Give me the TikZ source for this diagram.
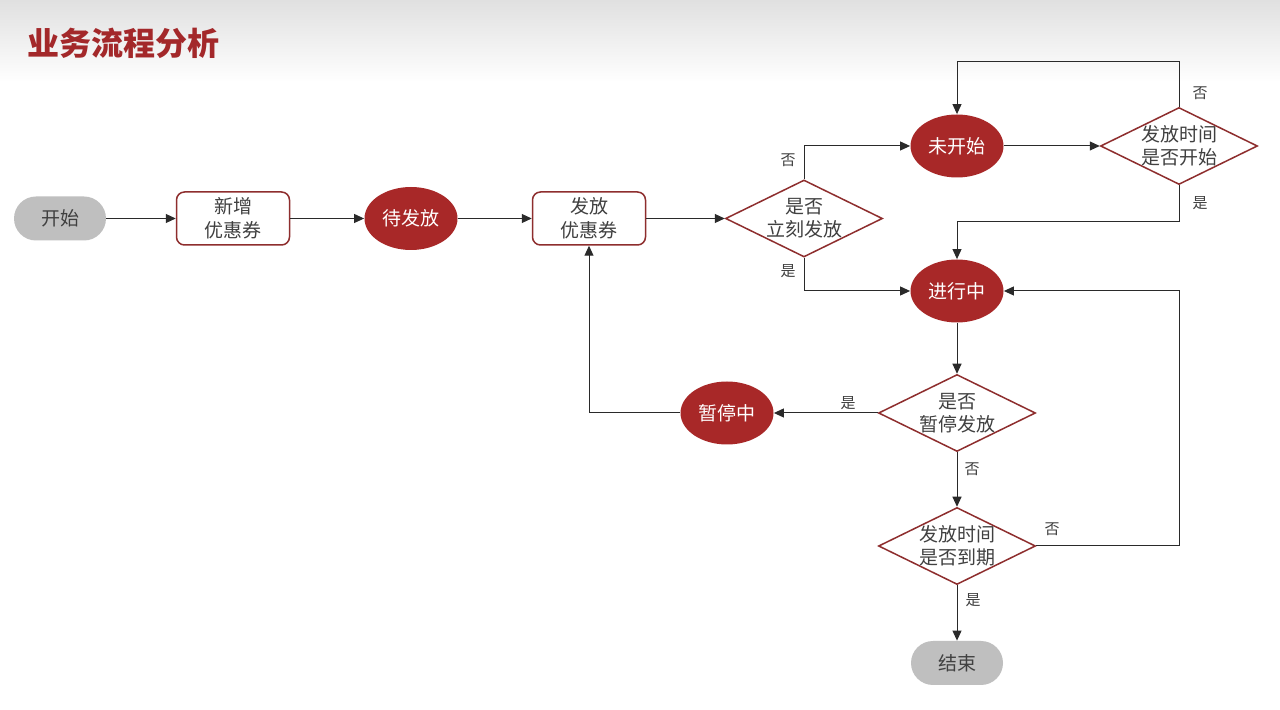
\documentclass[tikz,border=0pt]{standalone}
\usepackage{fontspec}
\setmainfont{Noto Sans CJK SC}
\usetikzlibrary{shapes.geometric,arrows.meta}
\definecolor{statered}{HTML}{A82828}
\definecolor{boxred}{HTML}{8E2E2E}
\definecolor{titlered}{HTML}{A3282A}
\definecolor{termgray}{HTML}{BFBFBF}
\definecolor{textgray}{HTML}{404040}
\definecolor{linegray}{HTML}{2A2A2A}
\definecolor{bandgray}{HTML}{E0E0E0}
\begin{document}
\begin{tikzpicture}[x=0.5pt,y=-0.5pt,
  nodefont/.style={font=\fontsize{9.5}{12}\selectfont},
  term/.style={rectangle, rounded corners=11pt, fill=termgray, minimum width=46pt, minimum height=22pt, inner sep=0pt, text=textgray, nodefont},
  box/.style={rectangle, rounded corners=4pt, draw=boxred, line width=0.75pt, fill=white, minimum width=56.5pt, minimum height=26.5pt, inner sep=0pt, align=center, text=textgray, nodefont},
  state/.style={ellipse, fill=statered, minimum width=46.5pt, minimum height=31.5pt, inner sep=0pt, text=white, nodefont},
  dia/.style={diamond, draw=boxred, line width=0.75pt, fill=white, minimum width=78.5pt, minimum height=38.5pt, inner sep=0pt},
  diatext/.style={align=center, text=textgray, inner sep=0pt, font=\fontsize{9.5}{11.5}\selectfont},
  lbl/.style={font=\fontsize{7.5}{9}\selectfont, text=textgray, inner sep=0pt},
  flow/.style={draw=linegray, line width=0.5pt, -{Triangle[length=5pt,width=4.5pt]}}
]
\useasboundingbox (0,0) rectangle (1280,710);
\fill[white] (0,0) rectangle (1280,710);
\shade[top color=bandgray, bottom color=white] (0,0) rectangle (1280,82);
\node[anchor=west, text=titlered, font=\fontsize{16}{19}\selectfont\bfseries, inner sep=0pt] (title) at (27,43) {业务流程分析};

% nodes
\node[term] (start) at (60,218.5) {开始};
\node[box] (new) at (233,218.5) {新增\\优惠券};
\node[state] (wait) at (411,218.5) {待发放};
\node[box] (issue) at (589,218.5) {发放\\优惠券};
\node[dia] (d1) at (804,218.5) {};
\node[diatext] (d1t) at (804,218.5) {是否\\立刻发放};
\node[state] (notstart) at (957,146) {未开始};
\node[dia] (d2) at (1179,146) {};
\node[diatext] (d2t) at (1179,146) {发放时间\\是否开始};
\node[state] (running) at (957,291) {进行中};
\node[dia] (d3) at (957,413) {};
\node[diatext] (d3t) at (957,413) {是否\\暂停发放};
\node[state] (pause) at (727,413) {暂停中};
\node[dia] (d4) at (957,546) {};
\node[diatext] (d4t) at (957,546) {发放时间\\是否到期};
\node[term] (end) at (957,663) {结束};

% helper coordinates
\coordinate (topc) at (1179,62);
\coordinate (midc) at (1179,222);
\coordinate (rc) at (1179,546);

% connectors
\draw[flow] (start) -- (new);
\draw[flow] (new) -- (wait);
\draw[flow] (wait) -- (issue);
\draw[flow] (issue) -- (d1);
\draw[flow] (d1.north) |- (notstart.west);
\draw[flow] (d1.south) |- (running.west);
\draw[flow] (notstart) -- (d2);
\draw[flow] (d2.north) -- (topc) -| (notstart.north);
\draw[flow] (d2.south) -- (midc) -| (running.north);
\draw[flow] (running) -- (d3);
\draw[flow] (d3) -- (pause);
\draw[flow] (pause.west) -| (issue.south);
\draw[flow] (d3) -- (d4);
\draw[flow] (d4.east) -- (rc) |- (running.east);
\draw[flow] (d4) -- (end);

% labels
\node[lbl] (l1) at (788,160) {否};
\node[lbl] (l2) at (788,271) {是};
\node[lbl] (l3) at (1200,93) {否};
\node[lbl] (l4) at (1200,203) {是};
\node[lbl] (l5) at (848,403) {是};
\node[lbl] (l6) at (972,469) {否};
\node[lbl] (l7) at (1052,529) {否};
\node[lbl] (l8) at (973,600) {是};
\end{tikzpicture}
\end{document}
